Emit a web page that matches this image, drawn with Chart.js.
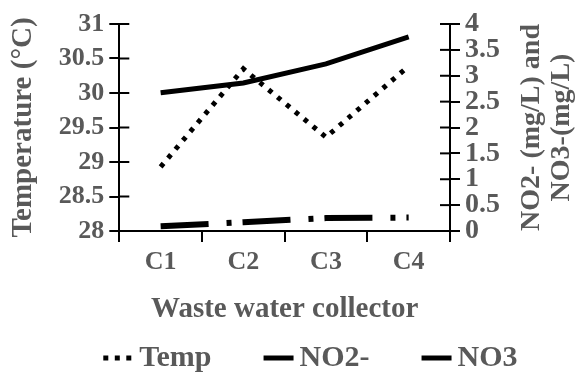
<!DOCTYPE html>
<html><head><meta charset="utf-8">
<script src="https://cdn.jsdelivr.net/npm/chart.js@4.4.1/dist/chart.umd.min.js"></script>
<style>html,body{margin:0;padding:0;background:#fff}#wrap{width:582px;height:378px}</style>
</head><body><div id="wrap"><canvas id="c" width="582" height="378"></canvas></div>
<script>
// ---- data ----
const categories = ['C1', 'C2', 'C3', 'C4'];
const tempValues = [28.93, 30.35, 29.36, 30.39];
const no2Values = [2.67, 2.86, 3.23, 3.75];
const no3Values = [0.09, 0.17, 0.25, 0.26];
const leftTicks = [28, 28.5, 29, 29.5, 30, 30.5, 31];
const rightTicks = [0, 0.5, 1, 1.5, 2, 2.5, 3, 3.5, 4];
const seriesLabels = ['Temp', 'NO2-', 'NO3'];
const xTitle = 'Waste water collector';
const leftTitle = 'Temperature (°C)';
const rightTitleLines = ['NO2- (mg/L) and', 'NO3-(mg/L)'];

const FAMILY = '"Liberation Serif", "Times New Roman", serif';
const GREY = '#595959';

const crossTicks = {
  id: 'crossTicks',
  afterDraw(chart) {
    const ctx = chart.ctx, a = chart.chartArea;
    ctx.save();
    ctx.strokeStyle = '#000'; ctx.lineWidth = 2;
    const y = chart.scales.y, y1 = chart.scales.y1;
    y.ticks.forEach((t, i) => {
      const p = y.getPixelForTick(i);
      ctx.beginPath(); ctx.moveTo(a.left, p); ctx.lineTo(a.left + 10, p); ctx.stroke();
    });
    y1.ticks.forEach((t, i) => {
      const p = y1.getPixelForTick(i);
      ctx.beginPath(); ctx.moveTo(a.right - 10, p); ctx.lineTo(a.right, p); ctx.stroke();
    });
    ctx.restore();
  }
};

const rightTitle = {
  id: 'rightTitle',
  afterDraw(chart) {
    const ctx = chart.ctx, s = chart.scales.y1;
    const cy = (s.top + s.bottom) / 2;
    ctx.save();
    ctx.fillStyle = GREY;
    ctx.font = 'bold 28px ' + FAMILY;
    ctx.textAlign = 'center'; ctx.textBaseline = 'middle';
    const x0 = chart.width - 50;
    rightTitleLines.forEach((line, i) => {
      ctx.save();
      ctx.translate(x0 + i * 30, cy);
      ctx.rotate(-Math.PI / 2);
      ctx.fillText(line, 0, 0);
      ctx.restore();
    });
    ctx.restore();
  }
};

const bottomLegend = {
  id: 'bottomLegend',
  afterDraw(chart) {
    const ctx = chart.ctx, a = chart.chartArea;
    const y = 358, symW = 30, gap = 6, spacing = 52;
    ctx.save();
    ctx.font = 'bold 30px ' + FAMILY;
    ctx.textBaseline = 'middle';
    let x = a.left - 16;
    chart.data.datasets.forEach(ds => {
      ctx.save();
      ctx.strokeStyle = ds.borderColor;
      ctx.lineWidth = 5;
      ctx.setLineDash(ds.legendDash || []);
      ctx.beginPath(); ctx.moveTo(x, y); ctx.lineTo(x + symW, y); ctx.stroke();
      ctx.restore();
      x += symW + gap;
      ctx.fillStyle = GREY;
      ctx.fillText(ds.label, x, y);
      x += ctx.measureText(ds.label).width + spacing;
    });
    ctx.restore();
  }
};

const tickFont = { family: FAMILY, size: 26, weight: 'bold' };
const rightTickFont = { family: FAMILY, size: 28, weight: 'bold' };
const titleFont = { family: FAMILY, size: 29, weight: 'bold' };
const yGrid = { drawOnChartArea: false, tickLength: 10, color: '#000', lineWidth: 2 };
const fmt = v => String(v);

new Chart(document.getElementById('c'), {
  type: 'line',
  data: {
    labels: categories,
    datasets: [
      { label: seriesLabels[0], data: tempValues, yAxisID: 'y', borderColor: '#000', backgroundColor: '#000',
        borderWidth: 5, borderDash: [4.5, 7], legendDash: [5, 6.5], pointRadius: 0, tension: 0 },
      { label: seriesLabels[1], data: no2Values, yAxisID: 'y1', borderColor: '#000', backgroundColor: '#000',
        borderWidth: 5, pointRadius: 0, tension: 0 },
      { label: seriesLabels[2], data: no3Values, yAxisID: 'y1', borderColor: '#000', backgroundColor: '#000',
        borderWidth: 6, borderDash: [48, 18, 5, 11], pointRadius: 0, tension: 0 }
    ]
  },
  options: {
    responsive: false, animation: false, devicePixelRatio: 1,
    layout: { padding: { left: 2, right: 77, top: 24, bottom: 42 } },
    plugins: { legend: { display: false }, tooltip: { enabled: false } },
    scales: {
      x: {
        offset: true,
        grid: { offset: true, drawOnChartArea: false, tickLength: 11, color: '#000', lineWidth: 2 },
        border: { color: '#000', width: 2 },
        ticks: { font: tickFont, color: GREY, padding: 5, maxRotation: 0, autoSkip: false },
        title: { display: true, text: xTitle, font: titleFont, color: GREY, padding: { top: 9, bottom: 9 } }
      },
      y: {
        position: 'left', min: 28, max: 31,
        afterBuildTicks: s => { s.ticks = leftTicks.map(v => ({ value: v })); },
        grid: yGrid,
        border: { color: '#000', width: 2 },
        ticks: { font: tickFont, color: GREY, padding: 5, autoSkip: false, callback: fmt },
        title: { display: true, text: leftTitle, font: titleFont, color: GREY, padding: { top: 4, bottom: 13 } }
      },
      y1: {
        position: 'right', min: 0, max: 4,
        afterBuildTicks: s => { s.ticks = rightTicks.map(v => ({ value: v })); },
        grid: yGrid,
        border: { color: '#000', width: 2 },
        ticks: { font: rightTickFont, color: GREY, padding: 5, autoSkip: false, callback: fmt }
      }
    }
  },
  plugins: [crossTicks, rightTitle, bottomLegend]
});
</script></body></html>
